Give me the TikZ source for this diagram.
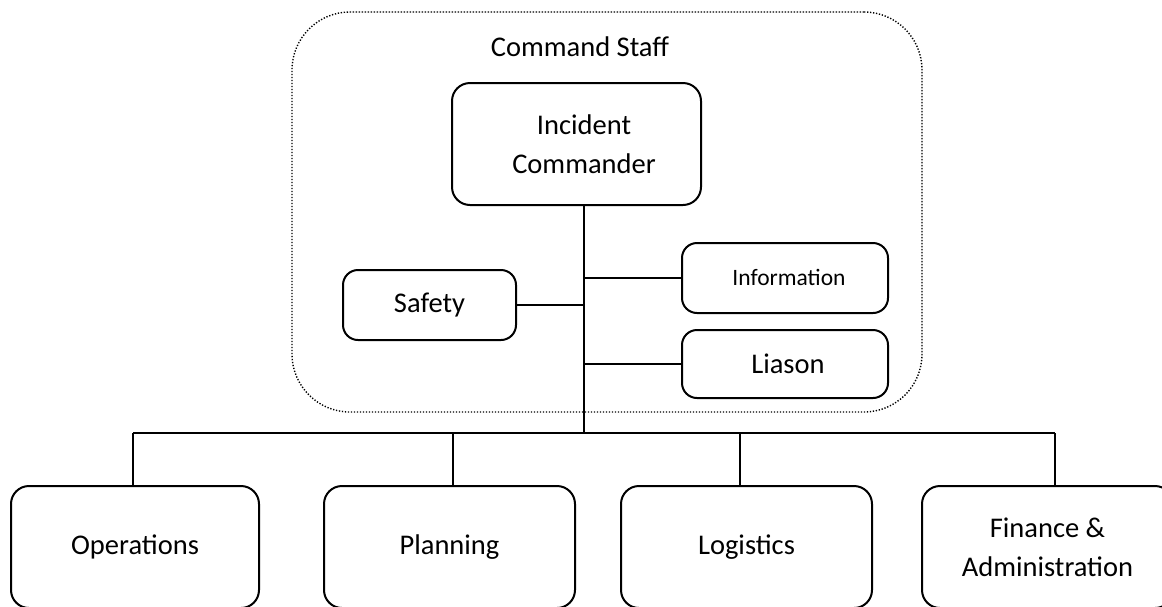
\documentclass[tikz,border=0pt]{standalone}
\usepackage{fontspec}
\setmainfont{Carlito}
\begin{document}
\begin{tikzpicture}[x=1pt,y=-1pt,
  box/.style={draw, line width=2pt, rounded corners=18pt, inner sep=0pt,
    align=center, font=\fontsize{28.5}{39}\selectfont},
  smallbox/.style={box, rounded corners=15pt},
  label/.style={inner sep=0pt, align=center, font=\fontsize{28.5}{39}\selectfont},
  frame/.style={draw, line width=1.4pt, dash pattern=on 1.3pt off 1.7pt,
    rounded corners=58pt, inner sep=0pt},
  link/.style={line width=1.8pt}]
\clip (0,0) rectangle (1162,606);

% command staff frame and its title
\node[frame, minimum width=630pt, minimum height=400pt] (staff) at (607,212) {};
\node[label] (title) at (580,47) {Command Staff};

% command staff boxes
\node[box, minimum width=249pt, minimum height=122pt] (ic) at (576.5,144) {};
\node[label] (ictext) at (584,144) {Incident\\Commander};
\node[smallbox, minimum width=173pt, minimum height=70pt] (safety) at (429.5,305) {Safety};
\node[smallbox, minimum width=206pt, minimum height=70pt] (info) at (785,278) {};
\node[label, font=\fontsize{23.5}{28}\selectfont] (infotext) at (789,277) {Information};
\node[smallbox, minimum width=206pt, minimum height=68pt] (liason) at (785,364) {};
\node[label] (liasontext) at (788,364) {Liason};

% general staff boxes
\node[box, minimum width=248pt, minimum height=122pt] (ops) at (135,547) {Operations};
\node[box, minimum width=251pt, minimum height=122pt] (plan) at (449.5,547) {Planning};
\node[box, minimum width=251pt, minimum height=122pt] (log) at (746.5,547) {Logistics};
\node[box, minimum width=251pt, minimum height=122pt] (fin) at (1047.5,547) {Finance \&\\Administration};

% trunk and bus points
\coordinate (bus) at (584,433);
\coordinate (d1) at (133,433);
\coordinate (d2) at (453,433);
\coordinate (d3) at (740,433);
\coordinate (d4) at (1055,433);

\draw[link] (ic.south -| bus) -- (bus);
\draw[link] (safety.east) -- (safety.east -| bus);
\draw[link] (info.west) -- (info.west -| bus);
\draw[link] (liason.west) -- (liason.west -| bus);
\draw[link] (d1) -- (d4);
\draw[link] (d1) -- (d1 |- ops.north);
\draw[link] (d2) -- (d2 |- plan.north);
\draw[link] (d3) -- (d3 |- log.north);
\draw[link] (d4) -- (d4 |- fin.north);
\end{tikzpicture}
\end{document}
